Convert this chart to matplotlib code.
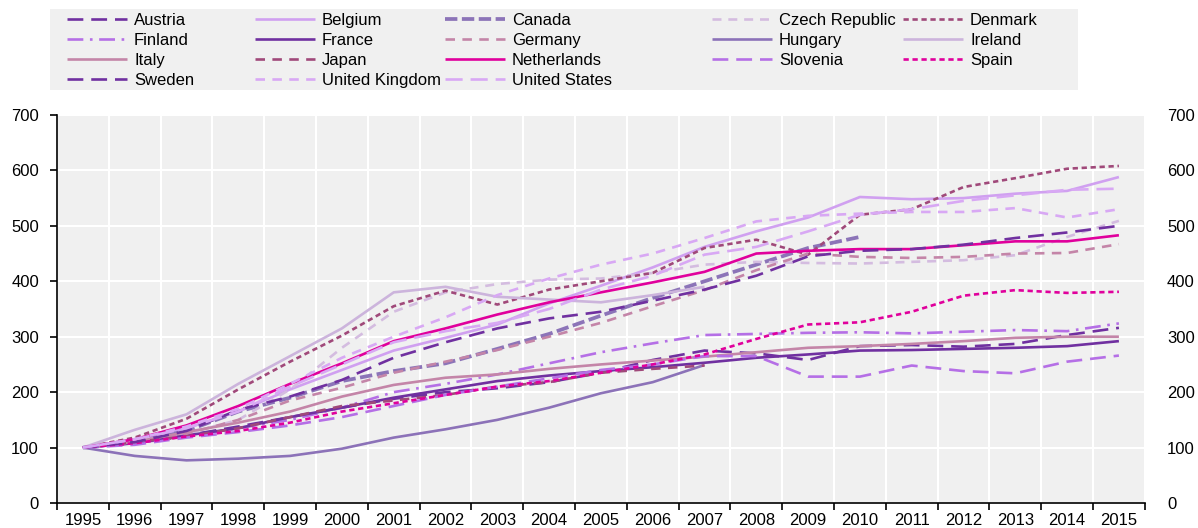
import numpy as np
import matplotlib
matplotlib.use('Agg')
from matplotlib import pyplot as plt
from matplotlib import font_manager

# pick a narrow arial-like font if it is there
names = set(f.name for f in font_manager.fontManager.ttflist)
if 'Liberation Sans Narrow' in names:
	FONT = 'Liberation Sans Narrow'
	FS = 13
else:
	FONT = 'Liberation Sans'
	FS = 12
plt.rcParams['font.family'] = [FONT, 'DejaVu Sans']

years = [str(y) for y in range(1995, 2016)]

# values (index 1995 = 100), shorter lists where a series stops
austria = [100, 108, 122, 138, 155, 172, 188, 200, 207, 218, 235, 258, 275, 270, 258, 283, 285, 282, 287, 303, 316]
belgium = [100, 115, 135, 165, 205, 240, 275, 298, 322, 360, 392, 425, 462, 490, 515, 552, 548, 550, 558, 563, 588]
canada = [100, 110, 130, 165, 190, 220, 238, 252, 278, 305, 338, 370, 400, 430, 460, 480]
czech = [100, 112, 125, 150, 205, 280, 345, 380, 395, 403, 405, 415, 430, 435, 433, 432, 435, 438, 447, 480, 509]
denmark = [100, 118, 152, 205, 255, 302, 355, 383, 358, 385, 400, 415, 460, 475, 448, 520, 530, 570, 586, 603, 608]
finland = [100, 108, 120, 135, 150, 172, 200, 215, 232, 252, 272, 288, 303, 305, 307, 308, 306, 309, 312, 310, 324]
france = [100, 108, 122, 135, 155, 172, 190, 205, 220, 230, 238, 245, 253, 262, 268, 275, 276, 278, 280, 283, 292]
germany = [100, 110, 125, 150, 185, 208, 235, 255, 276, 300, 325, 355, 384, 420, 450, 444, 442, 444, 450, 451, 467]
hungary = [100, 85, 77, 80, 85, 98, 118, 133, 150, 172, 198, 218, 249]
ireland = [100, 132, 160, 215, 265, 315, 380, 390, 372, 367, 362, 375, 390]
italy = [100, 110, 128, 145, 165, 192, 213, 226, 232, 242, 250, 257, 264, 272, 280, 283, 287, 292, 298, 300, 300]
japan = [100, 110, 120, 135, 155, 175, 185, 195, 210, 218, 235, 242, 248]
netherlands = [100, 115, 140, 175, 215, 252, 292, 315, 340, 362, 380, 398, 417, 450, 455, 458, 458, 465, 472, 472, 483]
slovenia = [100, 105, 118, 128, 140, 155, 175, 195, 210, 225, 240, 250, 265, 265, 228, 228, 248, 238, 234, 255, 266]
spain = [100, 108, 120, 130, 145, 165, 180, 195, 210, 220, 235, 250, 268, 296, 322, 326, 345, 374, 384, 379, 381]
sweden = [100, 110, 130, 168, 192, 222, 262, 290, 315, 333, 345, 365, 385, 410, 445, 455, 458, 466, 478, 488, 500]
uk = [100, 115, 138, 170, 215, 262, 300, 335, 375, 405, 430, 450, 478, 508, 518, 522, 525, 525, 532, 515, 530]
us = [100, 115, 135, 165, 210, 250, 290, 310, 325, 350, 385, 410, 448, 462, 490, 520, 530, 545, 555, 565, 567]

# name, data, colour, width, dashes (None = solid)
series = [
	('Austria', austria, '#7030A0', 1.9, (6, 3)),
	('Belgium', belgium, '#D0A0F0', 1.9, None),
	('Canada', canada, '#8C74B8', 2.7, (3.3, 1.2)),
	('Czech Republic', czech, '#D4BCE0', 1.9, (3.4, 2.6)),
	('Denmark', denmark, '#A0497A', 1.9, (2, 1.4)),
	('Finland', finland, '#B56FE6', 1.9, (6, 2.5, 1, 2.5)),
	('France', france, '#7030A0', 1.9, None),
	('Germany', germany, '#C485A8', 1.9, (3.6, 2.8)),
	('Hungary', hungary, '#8C72B8', 1.9, None),
	('Ireland', ireland, '#CCB4DC', 1.9, None),
	('Italy', italy, '#C485A8', 1.9, None),
	('Japan', japan, '#A0497A', 1.9, (3.6, 2.8)),
	('Netherlands', netherlands, '#E0009C', 1.9, None),
	('Slovenia', slovenia, '#B56FE6', 1.9, (6, 3)),
	('Spain', spain, '#E0009C', 1.9, (2, 1.4)),
	('Sweden', sweden, '#7030A0', 1.9, (6, 3)),
	('United Kingdom', uk, '#D8A8F4', 1.9, (3.6, 2.8)),
	('United States', us, '#D8A8F4', 1.9, (6.5, 3)),
]

fig = plt.figure(figsize=(11.98, 5.28), dpi=100)
ax = fig.add_axes([0.0476, 0.0473, 0.908, 0.735])
ax.set_facecolor('#F0F0F0')

handles = []
for name, vals, col, lw, dash in series:
	x = np.arange(len(vals))
	line, = ax.plot(x, vals, color=col, lw=lw, label=name, solid_capstyle='butt')
	if dash is not None:
		line.set_dashes(dash)
		line.set_dash_capstyle('butt')
	handles.append(line)

ax.set_xlim(-0.5, 20.5)
ax.set_ylim(0, 700)
ax.set_yticks(range(0, 701, 100))
ax.set_xticks(range(21))
ax.set_xticklabels(years)
ax.set_xticks(np.arange(-0.5, 21, 1), minor=True)
ax.tick_params(axis='x', which='major', length=0, labelsize=FS, pad=7)
ax.tick_params(axis='x', which='minor', length=5, width=1.2, color='black')
ax.tick_params(axis='y', length=5, width=1.2, labelsize=FS, pad=8)
ax.grid(True, axis='x', which='minor', color='white', lw=1.5)
ax.grid(True, axis='y', which='major', color='white', lw=1.5)
ax.set_axisbelow(True)
for s in ['top', 'right']:
	ax.spines[s].set_visible(False)
for s in ['left', 'bottom']:
	ax.spines[s].set_linewidth(1.2)
	ax.spines[s].set_color('black')

# same scale on the right, labels only
ax2 = ax.twinx()
ax2.set_ylim(ax.get_ylim())
ax2.set_yticks(range(0, 701, 100))
ax2.tick_params(axis='y', length=0, labelsize=FS, pad=16)
for s in ax2.spines.values():
	s.set_visible(False)

# legend: grey box with five columns, filled row by row
W, H = 1198.0, 528.0
box = plt.Rectangle((50 / W, 1 - 90 / H), (1078 - 50) / W, (90 - 9) / H,
	transform=fig.transFigure, facecolor='#F0F0F0', edgecolor='none', zorder=0)
fig.patches.append(box)
col_x = [64, 252, 442, 709, 900]
for c in range(5):
	hs = handles[c::5]
	fig.legend(handles=hs, loc='upper left', bbox_to_anchor=(col_x[c] / W, 1 - 9.5 / H),
		frameon=False, fontsize=FS, handlelength=3.6, handletextpad=0.4,
		labelspacing=0.31, borderpad=0.2, borderaxespad=0)

fig.savefig('out.png', dpi=100)
